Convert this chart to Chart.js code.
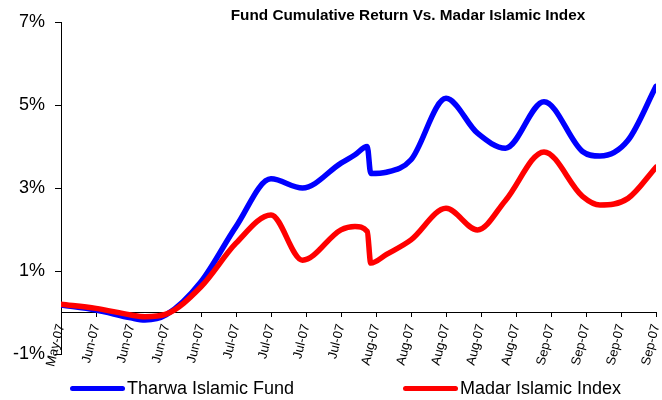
<!DOCTYPE html>
<html>
<head>
<meta charset="utf-8">
<script src="https://cdn.jsdelivr.net/npm/chart.js@4.4.1/dist/chart.umd.min.js"></script>
<style>
    body { margin: 0; background: #fff; }
    #wrap { position: relative; width: 662px; height: 400px; font-family: 'Liberation Sans', Arial, sans-serif; }
    canvas { position: absolute; left: 0; top: 0; }
    .legend-item { position: absolute; top: 377px; height: 22px; display: flex; align-items: center; font-size: 18px; color: #000; }
    .legend-line { width: 55px; height: 5px; border-radius: 3px; margin-right: 2px; }
</style>
</head>
<body>
<div id="wrap">
    <canvas id="returnChart" width="662" height="400"></canvas>
    <div id="legend"></div>
</div>
<script>
const chartTitle = 'Fund Cumulative Return Vs. Madar Islamic Index';
const tickLabels = ['May-07', 'Jun-07', 'Jun-07', 'Jun-07', 'Jun-07', 'Jul-07', 'Jul-07', 'Jul-07', 'Jul-07',
    'Aug-07', 'Aug-07', 'Aug-07', 'Aug-07', 'Aug-07', 'Sep-07', 'Sep-07', 'Sep-07', 'Sep-07'];
const seriesNames = ['Tharwa Islamic Fund', 'Madar Islamic Index'];
const seriesColors = ['#0000ff', '#ff0000'];

// position along the weekly axis (0 = first tick)
const weekPos = [0, 1, 2, 2.4, 3, 4, 5, 6, 6.9, 8, 8.4, 8.75, 8.85, 9.3, 10, 11, 11.9, 12.7, 13.8, 14.9, 15.4, 16.2, 17];
const fundReturn = [0.18, 0.06, -0.13, -0.18, -0.06, 0.74, 2.07, 3.22, 3.0, 3.6, 3.8, 4.0, 3.35, 3.38, 3.68, 5.16, 4.32, 3.96, 5.08, 3.88, 3.77, 4.15, 5.45];
const indexReturn = [0.20, 0.10, -0.06, -0.10, -0.04, 0.62, 1.67, 2.35, 1.26, 1.99, 2.07, 1.95, 1.19, 1.4, 1.75, 2.51, 1.99, 2.7, 3.87, 2.8, 2.59, 2.75, 3.5];

const FONT = "'Liberation Sans', Arial, sans-serif";

function toPoints(values) {
    return values.map((v, i) => ({ x: weekPos[i], y: v }));
}

const titlePlugin = {
    id: 'plainTitle',
    afterDraw(chart) {
        const ctx = chart.ctx;
        ctx.save();
        ctx.font = 'bold 15.3px ' + FONT;
        ctx.fillStyle = '#000';
        ctx.textAlign = 'center';
        ctx.textBaseline = 'middle';
        ctx.fillText(chartTitle, 408, 16);
        ctx.restore();
    }
};

new Chart(document.getElementById('returnChart'), {
    type: 'line',
    data: {
        datasets: [
            { label: seriesNames[0], data: toPoints(fundReturn), borderColor: seriesColors[0], order: 1 },
            { label: seriesNames[1], data: toPoints(indexReturn), borderColor: seriesColors[1], order: 0 }
        ]
    },
    options: {
        responsive: false,
        devicePixelRatio: 1,
        animation: false,
        layout: { padding: { left: 0, right: 6, top: 22, bottom: 46 } },
        elements: {
            line: { borderWidth: 5.5, cubicInterpolationMode: 'monotone', borderCapStyle: 'round', borderJoinStyle: 'round' },
            point: { radius: 0 }
        },
        plugins: { legend: { display: false }, tooltip: { enabled: false } },
        scales: {
            x: {
                type: 'linear',
                position: { y: 0 },
                min: 0,
                max: 17,
                afterFit: scale => { scale.paddingLeft = 0; scale.paddingRight = 0; },
                grid: { drawOnChartArea: false, tickLength: 4, color: '#000' },
                border: { color: '#000' },
                ticks: {
                    stepSize: 1,
                    autoSkip: false,
                    minRotation: 76,
                    maxRotation: 76,
                    padding: 6,
                    color: '#000',
                    font: { family: FONT, size: 13 },
                    callback: v => tickLabels[v]
                }
            },
            y: {
                min: -1,
                max: 7,
                afterFit: scale => { scale.width = 61; },
                grid: { drawOnChartArea: false, tickLength: 6, color: '#000' },
                border: { color: '#000' },
                ticks: {
                    stepSize: 2,
                    padding: 10,
                    color: '#000',
                    font: { family: FONT, size: 18 },
                    callback: v => v + '%'
                }
            }
        }
    },
    plugins: [titlePlugin]
});

const legendLeft = [70, 403];
const legend = document.getElementById('legend');
seriesNames.forEach((name, i) => {
    const item = document.createElement('div');
    item.className = 'legend-item';
    item.style.left = legendLeft[i] + 'px';
    item.innerHTML = '<span class="legend-line" style="background:' + seriesColors[i] + '"></span><span>' + name + '</span>';
    legend.appendChild(item);
});
</script>
</body>
</html>
